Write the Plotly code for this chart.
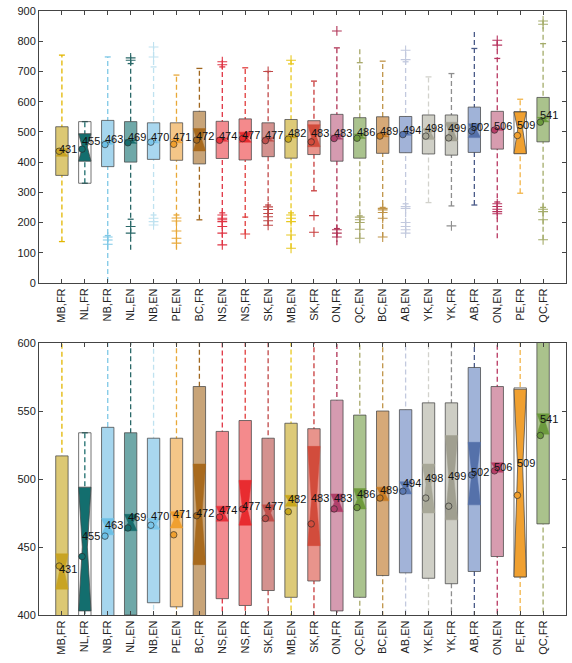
import plotly.graph_objects as go

# ---------------- data ----------------
categories = ["MB,FR", "NL,FR", "NB,FR", "NL,EN", "NB,EN", "PE,EN", "BC,FR", "NS,EN", "NS,FR", "SK,EN", "MB,EN",
              "SK,FR", "ON,FR", "QC,EN", "BC,EN", "AB,EN", "YK,EN", "YK,FR", "AB,FR", "ON,EN", "PE,FR", "QC,FR"]
median_labels = [431, 455, 463, 469, 470, 471, 472, 474, 477, 477, 482, 483, 483, 486, 489, 494, 498, 499, 502, 506, 509, 541]
q1 = [356, 330, 385, 400, 409, 406, 394, 412, 407, 418, 413, 425, 403, 413, 429, 431, 427, 423, 432, 443, 428, 467]
q3 = [517, 534, 538, 534, 530, 530, 568, 535, 543, 530, 541, 537, 558, 547, 550, 551, 556, 556, 582, 568, 567, 614]
notch_lo = [419, 403, 459, 462, 463, 464, 437, 469, 466, 469, 480, 451, 476, 478, 484, 489, 475, 470, 481, 505, 428, 533]
notch_hi = [445, 494, 471, 474, 471, 476, 511, 480, 499, 481, 488, 524, 489, 493, 494, 498, 511, 532, 527, 512, 566, 548]
medians = [432, 450, 465, 468, 467, 470, 474, 474, 477, 475, 484, 484, 483, 485, 489, 494, 496, 500, 504, 508, 509, 541]
means = [436, 443, 458, 464, 466, 459, 473, 472, 478, 471, 476, 467, 478, 479, 486, 491, 486, 480, 503, 506, 488, 532]
whisker_lo = [137, 330, 3, 110, 192, 110, 209, 126, 162, 191, 115, 305, 125, 148, 152, 165, 266, 255, 258, 148, 297, 143]
whisker_hi = [754, 534, 748, 748, 781, 688, 710, 732, 712, 701, 737, 668, 778, 781, 734, 770, 682, 693, 834, 803, 608, 867]
cap_lo = [137, 330, 157, 211, 225, 225, 209, 232, 218, 258, 232, 305, 180, 222, 250, 262, 266, 255, 258, 268, 297, 250]
cap_hi = [754, 534, 748, 726, 715, 688, 710, 715, 712, 700, 725, 668, 778, 729, 734, 732, 682, 693, 776, 743, 608, 792]
outliers = [
    [],
    [],
    [152, 142, 128],
    [737, 745, 187, 165],
    [748, 781, 214, 203, 192],
    [215, 205, 172, 148, 132],
    [],
    [732, 722, 225, 214, 209, 203, 187, 165, 126],
    [162],
    [700, 252, 243, 230, 219, 206, 191],
    [737, 225, 214, 203, 159, 115],
    [223, 168],
    [834, 176, 165, 152],
    [218, 209, 200, 178, 148],
    [247, 242, 233, 214, 152],
    [739, 770, 253, 247, 200, 187, 176, 165],
    [],
    [189],
    [],
    [803, 787, 262, 253, 244, 236, 229],
    [],
    [867, 856, 244, 236, 209, 143],
]
box_colors = ["#dcc874", "rgba(0,0,0,0)", "#a6d6ee", "#6fa8a8", "#a9d7ef", "#f4c688", "#c8a478", "#f28b90",
              "#f48a8c", "#d4928f", "#ddca78", "#e8948c", "#d59bb0", "#aac38e", "#d6a978", "#a2b3d8",
              "#cfcfc6", "#cdcdc4", "#a0b3d8", "#d79caf", "rgba(0,0,0,0)", "#aac28c"]
notch_colors = ["#c8a424", "#136e6e", "#6cc0e6", "#186c6c", "#7cc6ea", "#f0a030", "#a86a1e", "#e8323c",
                "#e82c30", "#c0504c", "#c9a81e", "#d24c3c", "#b0406c", "#6e9a3c", "#c87c24", "#5a78b2",
                "#a8a898", "#a09f90", "#5571aa", "#b63e68", "#f0a030", "#6c9a3e"]
whisker_colors = ["#e2b600", "#1e6e6e", "#7ec8e6", "#2a6868", "#bfe2f0", "#e8a838", "#a0661e", "#e03444",
                  "#e03c3c", "#c04848", "#e8c820", "#c83c3c", "#b03456", "#a8a86a", "#c09448", "#c2c9de",
                  "#d2d2cc", "#8e8e8e", "#4a5a88", "#b83660", "#f2b448", "#a4ac6a"]

# ---------------- figure ----------------
fig = go.Figure()
BW = 0.27   # half box width
NW = 0.11   # half notch waist
CW = 0.13   # half cap width
FONT = "Liberation Sans, Arial, sans-serif"

for xa, ya in (("x", "y"), ("x2", "y2")):
    for i, cat in enumerate(categories):
        p = i + 1
        wc = whisker_colors[i]
        common = dict(xaxis=xa, yaxis=ya, showlegend=False, hoverinfo="skip")
        # whisker (dashed)
        fig.add_trace(go.Scatter(x=[p, p], y=[whisker_lo[i], whisker_hi[i]], mode="lines",
                                 line=dict(color=wc, width=1.3, dash="5px,3px"), **common))
        # caps
        fig.add_trace(go.Scatter(x=[p - CW, p + CW, None, p - CW, p + CW],
                                 y=[cap_lo[i], cap_lo[i], None, cap_hi[i], cap_hi[i]],
                                 mode="lines", line=dict(color=wc, width=1.3), **common))
        # outliers
        if outliers[i]:
            fig.add_trace(go.Scatter(x=[p] * len(outliers[i]), y=outliers[i], mode="markers",
                                     marker=dict(symbol="cross-thin", size=7, line=dict(color=wc, width=1.1)),
                                     **common))
        # box
        transparent = box_colors[i].startswith("rgba(0,0,0,0")
        fig.add_trace(go.Scatter(x=[p - BW, p + BW, p + BW, p - BW, p - BW],
                                 y=[q1[i], q1[i], q3[i], q3[i], q1[i]],
                                 mode="lines", fill="toself", fillcolor=box_colors[i],
                                 line=dict(color="rgba(70,70,70,0.75)", width=1), **common))
        # notch (hourglass)
        fig.add_trace(go.Scatter(x=[p - BW, p + BW, p + NW, p + BW, p - BW, p - NW, p - BW],
                                 y=[notch_lo[i], notch_lo[i], medians[i], notch_hi[i], notch_hi[i],
                                    medians[i], notch_lo[i]],
                                 mode="lines", fill="toself", fillcolor=notch_colors[i],
                                 line=dict(color="rgba(70,70,70,0.75)" if transparent else notch_colors[i],
                                           width=1 if transparent else 0.5), **common))
        # mean marker
        fig.add_trace(go.Scatter(x=[p - 0.12], y=[means[i]], mode="markers",
                                 marker=dict(size=6.5, color=notch_colors[i],
                                             line=dict(color="rgba(40,40,40,0.8)", width=0.8)), **common))
        # median label
        fig.add_annotation(x=p - 0.22, y=median_labels[i], xref=xa, yref=ya, text=str(median_labels[i]),
                           showarrow=False, xanchor="left", yanchor="middle", yshift=4,
                           font=dict(family=FONT, size=11, color="#111"))

axis_common = dict(showline=True, linecolor="#444", linewidth=1.1, mirror="allticks", ticks="inside",
                   ticklen=4, tickcolor="#444", showgrid=False, zeroline=False, automargin=False,
                   tickfont=dict(family=FONT, size=11, color="#222"))
xaxis_common = dict(axis_common, range=[0, 23], tickmode="array", tickvals=list(range(1, len(categories) + 1)),
                    ticktext=categories, tickangle=-90)

fig.update_layout(
    width=572, height=663,
    margin=dict(l=39, r=6, t=11, b=48),
    paper_bgcolor="white", plot_bgcolor="white",
    xaxis=dict(xaxis_common, anchor="y", domain=[0, 1]),
    yaxis=dict(axis_common, anchor="x", domain=[0.5497, 1], range=[0, 900], dtick=100, tick0=0),
    xaxis2=dict(xaxis_common, anchor="y2", domain=[0, 1]),
    yaxis2=dict(axis_common, anchor="x2", domain=[0, 0.4503], range=[400, 600], dtick=50, tick0=400),
    showlegend=False,
)

fig.write_html("out.html", config={"displayModeBar": False},
               post_script="document.body.style.margin='0';")
